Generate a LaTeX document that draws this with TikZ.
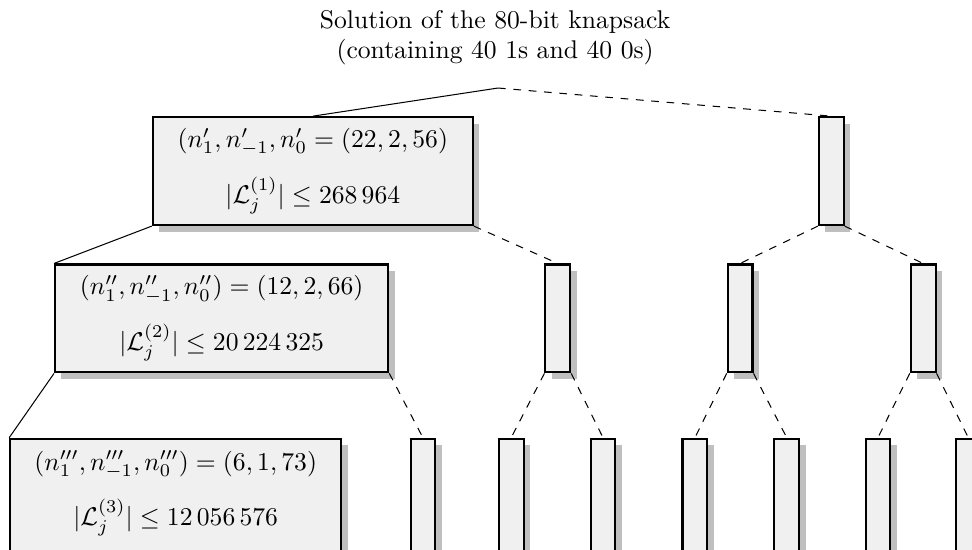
\documentclass[tikz,border=0pt]{standalone}
\usepackage{amsmath,amssymb}
\usepackage{tikz}
\usetikzlibrary{positioning,shadows}

\begin{document}
\begin{tikzpicture}[node distance=2cm,on grid,auto]

    \tikzset{block/.style={draw,thick,rectangle,fill=black!6,minimum height=1.48cm,
        drop shadow={shadow xshift=2.5pt,shadow yshift=-2.5pt,fill=black!25,opacity=1}}}
    \tikzset{big/.style={block,align=center}}
    \tikzset{slim/.style={block,minimum width=0.34cm}}
    \tikzset{deep/.style={minimum height=1.78cm}}

    \useasboundingbox (-6.83,1.207) rectangle (6.50,-6.324);

    \coordinate (root) at (0,0);
    \node[align=center] (title) at (-0.04,0.69)
        {Solution of the 80-bit knapsack\\(containing 40 1s and 40 0s)};

    % first level
    \node[big,minimum width=4.39cm] (l1a) at (-2.54,-1.14)
        {$(n'_1, n'_{-1}, n'_0 = (22, 2, 56)$\\[7pt] $|\mathcal{L}^{(1)}_j| \le 268\,964$};
    \node[slim] (l1b) at (4.57,-1.14) {};

    % second level
    \node[big,minimum width=4.57cm] (l2a) [below left = 2.02cm and 1.25cm of l1a]
        {$(n''_1, n''_{-1}, n''_0) = (12, 2, 66)$\\[7pt] $|\mathcal{L}^{(2)}_j| \le 20\,224\,325$};
    \node[slim] (l2b) [below right = 2.02cm and 3.36cm of l1a] {};
    \node[slim] (l2c) [below left = 2.02cm and 1.25cm of l1b] {};
    \node[slim] (l2d) [below right = 2.02cm and 1.26cm of l1b] {};

    % third level (runs off the bottom edge)
    \node[big,deep,minimum width=4.54cm] (l3a) [below left = 2.54cm and 0.63cm of l2a]
        {$(n'''_1, n'''_{-1}, n'''_0) = (6, 1, 73)$\\[7pt]
         $|\mathcal{L}^{(3)}_j| \le 12\,056\,576$\rule[-12pt]{0pt}{12pt}};
    \node[slim,deep] (l3b) [below right = 2.54cm and 2.76cm of l2a] {};
    \node[slim,deep] (l3c) [below left = 2.54cm and 0.64cm of l2b] {};
    \node[slim,deep] (l3d) [below right = 2.54cm and 0.62cm of l2b] {};
    \node[slim,deep] (l3e) [below left = 2.54cm and 0.62cm of l2c] {};
    \node[slim,deep] (l3f) [below right = 2.54cm and 0.64cm of l2c] {};
    \node[slim,deep] (l3g) [below left = 2.54cm and 0.62cm of l2d] {};
    \node[slim,deep] (l3h) [below right = 2.54cm and 0.62cm of l2d] {};

    \path
    (root)
    edge [] (l1a.north)
    edge [dashed] (l1b.north)
    (l1a.south west) edge [] (l2a.north west)
    (l1a.south east) edge [dashed] (l2b.north)
    (l1b.south west) edge [dashed] (l2c.north)
    (l1b.south east) edge [dashed] (l2d.north)
    (l2a.south west) edge [] (l3a.north west)
    (l2a.south east) edge [dashed] (l3b.north)
    (l2b.south west) edge [dashed] (l3c.north)
    (l2b.south east) edge [dashed] (l3d.north)
    (l2c.south west) edge [dashed] (l3e.north)
    (l2c.south east) edge [dashed] (l3f.north)
    (l2d.south west) edge [dashed] (l3g.north)
    (l2d.south east) edge [dashed] (l3h.north)
    ;
\end{tikzpicture}
\end{document}
